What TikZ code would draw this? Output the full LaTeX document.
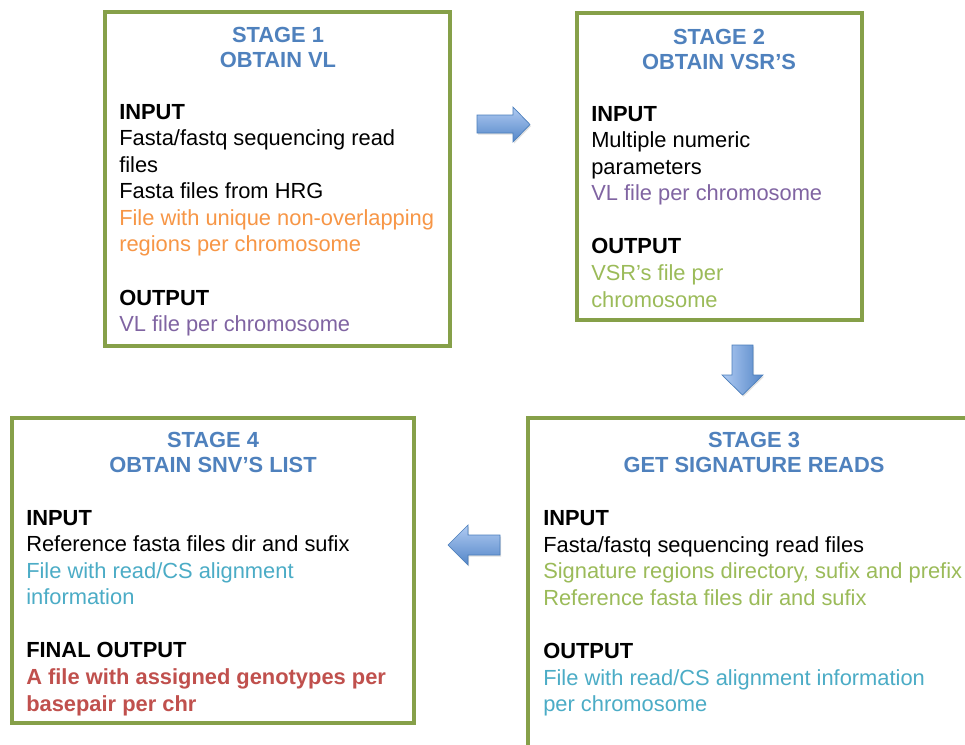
\documentclass[tikz,border=0pt]{standalone}
\usepackage{fontspec}
\setmainfont{Liberation Sans}
\usetikzlibrary{shadows}

\definecolor{frame}{RGB}{134,160,73}
\definecolor{titleblue}{RGB}{79,129,189}
\definecolor{inorange}{RGB}{247,150,70}
\definecolor{vlpurple}{RGB}{128,100,162}
\definecolor{vsrgreen}{RGB}{155,187,89}
\definecolor{alncyan}{RGB}{75,172,198}
\definecolor{finalred}{RGB}{192,80,77}
\definecolor{arrowlight}{RGB}{176,203,242}
\definecolor{arrowdark}{RGB}{84,134,200}
\definecolor{arrowedge}{RGB}{74,126,187}

\newcommand{\bodyfont}{\fontsize{16.4}{19.9}\selectfont}
\newcommand{\headfont}{\fontsize{16.4}{18.9}\selectfont}

\tikzset{
  stagebox/.style={draw=frame, line width=2.3pt},
  stagetitle/.style={anchor=north, align=center, inner sep=0pt,
                     text=titleblue, font=\headfont\bfseries},
  stagebody/.style={anchor=north west, align=left, inner sep=0pt,
                    font=\bodyfont},
  blockarrow/.style={draw=arrowedge, line width=0.5pt, line join=miter,
                     drop shadow={shadow xshift=0.8pt, shadow yshift=-1.2pt,
                                  opacity=0.25}},
  harrow/.style={blockarrow, top color=arrowlight, bottom color=arrowdark},
  varrow/.style={blockarrow, left color=arrowlight, right color=arrowdark},
}

\begin{document}
\begin{tikzpicture}[x=0.75pt, y=-0.75pt]
\useasboundingbox (0,0) rectangle (965,744);
\fill[white] (0,0) rectangle (965,744);

% stage frames
\draw[stagebox] (105,12) rectangle (450,346);
\draw[stagebox] (577,13) rectangle (862,320);
\draw[stagebox] (12,418) rectangle (414,723);
\begin{scope}
  \clip (0,0) rectangle (965,744);
  \draw[stagebox] (528,418) rectangle (990,770);
\end{scope}

% stage 1
\node[stagetitle] (t1) at (278,27) {STAGE 1\\OBTAIN VL};
\node[stagebody] (b1) at (119,104) {%
  \textbf{INPUT}\\
  Fasta/fastq sequencing read\\
  files\\
  Fasta files from HRG\\
  \textcolor{inorange}{File with unique non-overlapping}\\
  \textcolor{inorange}{regions per chromosome}\\[19.9pt]
  \textbf{OUTPUT}\\
  \textcolor{vlpurple}{VL file per chromosome}};

% stage 2
\node[stagetitle] (t2) at (719,28.5) {STAGE 2\\OBTAIN VSR’S};
\node[stagebody] (b2) at (591,106) {%
  \textbf{INPUT}\\
  Multiple numeric\\
  parameters\\
  \textcolor{vlpurple}{VL file per chromosome}\\[19.9pt]
  \textbf{OUTPUT}\\
  \textcolor{vsrgreen}{VSR’s file per}\\
  \textcolor{vsrgreen}{chromosome}};

% stage 3
\node[stagetitle] (t3) at (754,432) {STAGE 3\\GET SIGNATURE READS};
\node[stagebody] (b3) at (543,510.5) {%
  \textbf{INPUT}\\
  Fasta/fastq sequencing read files\\
  \textcolor{vsrgreen}{Signature regions directory, sufix and prefix}\\
  \textcolor{vsrgreen}{Reference fasta files dir and sufix}\\[19.9pt]
  \textbf{OUTPUT}\\
  \textcolor{alncyan}{File with read/CS alignment information}\\
  \textcolor{alncyan}{per chromosome}};

% stage 4
\node[stagetitle] (t4) at (213,432) {STAGE 4\\OBTAIN SNV’S LIST};
\node[stagebody] (b4) at (26,510) {%
  \textbf{INPUT}\\
  Reference fasta files dir and sufix\\
  \textcolor{alncyan}{File with read/CS alignment}\\
  \textcolor{alncyan}{information}\\[19.9pt]
  \textbf{FINAL OUTPUT}\\
  \textcolor{finalred}{\textbf{A file with assigned genotypes per}}\\
  \textcolor{finalred}{\textbf{basepair per chr}}};

% flow arrows between the stages
\path[harrow] (477,115) -- (513,115) -- (513,107) -- (530,124.5)
  -- (513,142) -- (513,133) -- (477,133) -- cycle;
\path[varrow] (732,345) -- (753,345) -- (753,375) -- (763,375)
  -- (742.5,395) -- (722,375) -- (732,375) -- cycle;
\path[harrow] (500,535) -- (468,535) -- (468,525) -- (448,545)
  -- (468,565) -- (468,555) -- (500,555) -- cycle;
\end{tikzpicture}
\end{document}
